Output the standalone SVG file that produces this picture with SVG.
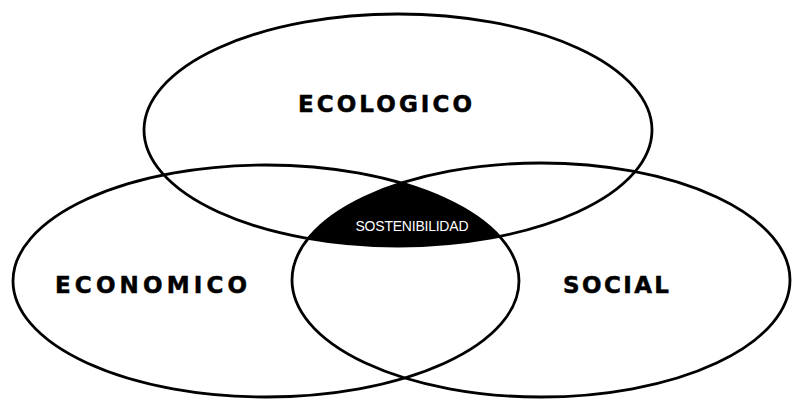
<svg xmlns="http://www.w3.org/2000/svg" width="794" height="402" viewBox="0 0 794 402">
  <defs>
    <style>
      .ring { fill: none; stroke: #000; stroke-width: 2.8; }
      .lbl { font-family: "DejaVu Sans", "Liberation Sans", sans-serif; font-weight: bold; font-size: 23px; fill: #000; stroke: #000; stroke-width: 0.5; text-anchor: middle; }
      .core { font-family: "Liberation Sans", Arial, sans-serif; font-size: 14px; fill: #fff; text-anchor: middle; }
    </style>
    <clipPath id="clipL">
      <ellipse cx="266" cy="281" rx="253" ry="116"/>
    </clipPath>
    <clipPath id="clipR">
      <ellipse cx="541" cy="280" rx="249" ry="117"/>
    </clipPath>
  </defs>
  <rect width="794" height="402" fill="#fff"/>
  <g id="sostenibilidad">
    <g clip-path="url(#clipL)">
      <g clip-path="url(#clipR)">
        <ellipse cx="398" cy="130" rx="254" ry="116" fill="#000"/>
      </g>
    </g>
    <text class="core" x="412" y="231" textLength="113" lengthAdjust="spacing">SOSTENIBILIDAD</text>
  </g>
  <g id="ecologico">
    <ellipse class="ring" cx="398" cy="130" rx="254" ry="116"/>
    <text class="lbl" x="385" y="112" textLength="174" lengthAdjust="spacing">ECOLOGICO</text>
  </g>
  <g id="economico">
    <ellipse class="ring" cx="266" cy="281" rx="253" ry="116"/>
    <text class="lbl" x="151" y="293" textLength="192" lengthAdjust="spacing">ECONOMICO</text>
  </g>
  <g id="social">
    <ellipse class="ring" cx="541" cy="280" rx="249" ry="117"/>
    <text class="lbl" x="616" y="293" textLength="106" lengthAdjust="spacing">SOCIAL</text>
  </g>
  <g id="connectors"/>
</svg>
